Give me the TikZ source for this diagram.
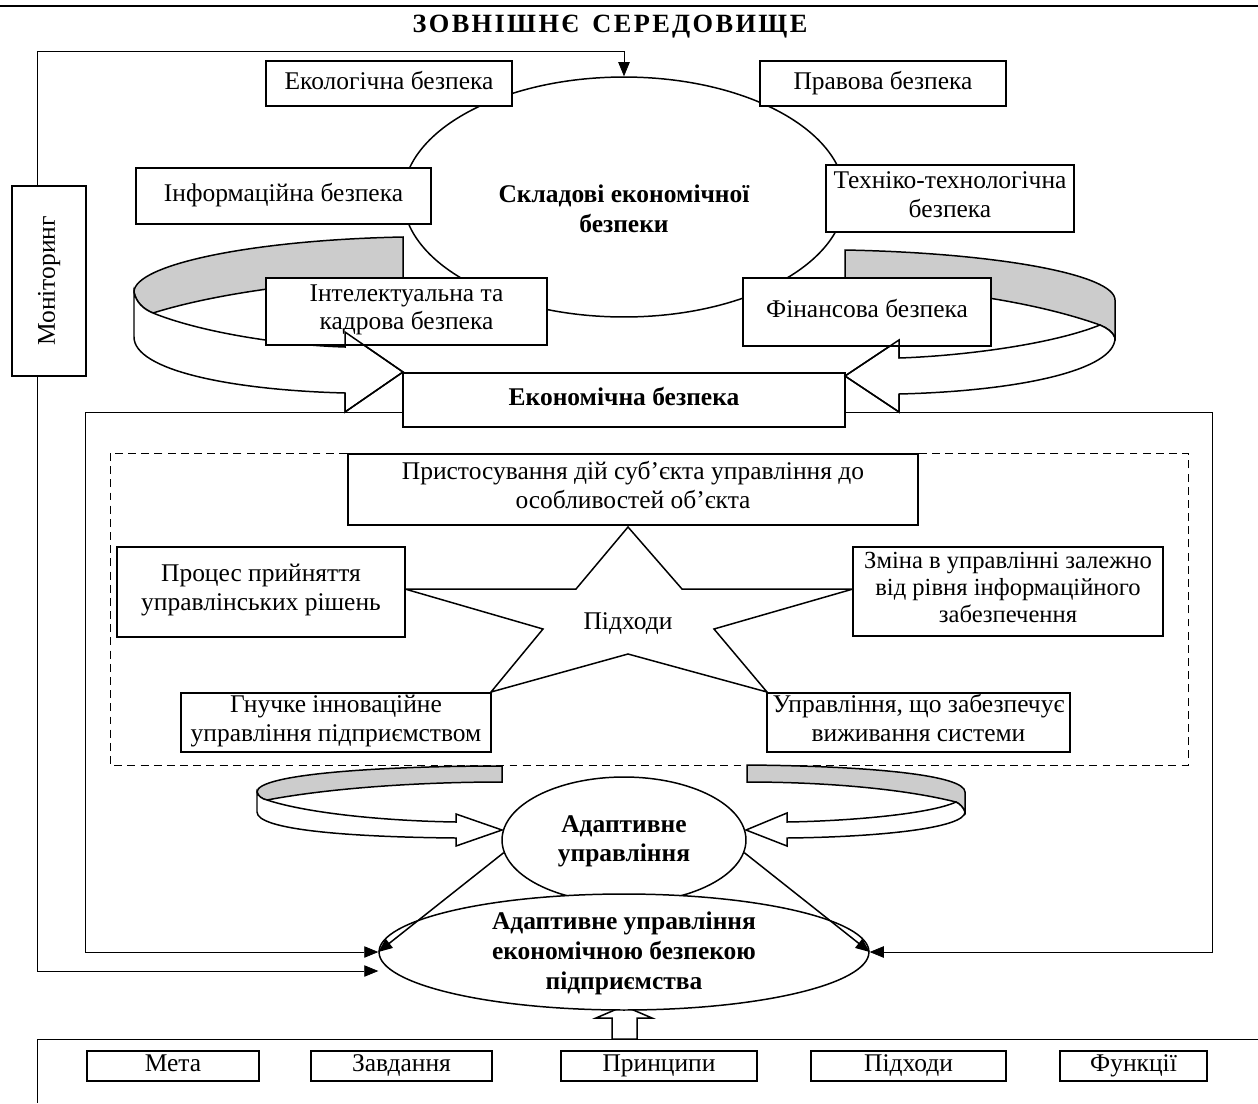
\documentclass[tikz,border=0pt]{standalone}
\usepackage{fontspec}
\setmainfont{Liberation Serif}
\usetikzlibrary{shapes.geometric,calc,arrows.meta}
\pgfdeclarelayer{background}
\pgfsetlayers{background,main}
\begin{document}
\begin{tikzpicture}[x=0.02cm,y=-0.02cm,line width=0.85pt,
  txt/.style={font=\fontsize{14.5}{16.5}\selectfont,align=center,
     execute at begin node=\strut,execute at end node=\strut},
  btxt/.style={font=\bfseries\fontsize{14.5}{17}\selectfont,align=center,
     execute at begin node=\strut,execute at end node=\strut},
  rb/.style n args={4}{minimum width={((#3)-(#1))*0.02cm},minimum height={((#4)-(#2))*0.02cm},
     at={({((#1)+(#3))/2},{((#2)+(#4))/2})}},
  box/.style={draw,fill=white,inner sep=0pt,txt},
  bbox/.style={draw,fill=white,inner sep=0pt,btxt},
  oval/.style={draw,fill=white,ellipse,inner sep=0pt},
  arr/.style={-{Triangle[length=8pt,width=6.5pt]}},
  backface/.style={draw,fill=black!20},
  frontface/.style={draw,fill=white}]
\useasboundingbox (0,0) rectangle (1258,1103);

% title
\node[btxt,font=\bfseries\fontsize{15}{17}\selectfont] (title) at (610,27) {\addfontfeature{LetterSpace=9}ЗОВНІШНЄ\hspace{0.5em}СЕРЕДОВИЩЕ};

% main ellipse
\node[oval,minimum width=8.84cm,minimum height=4.8cm] (skl) at (624,197) {};

% big ribbons
\path[backface] (403,237) .. controls (250,240) and (134,265) .. (134,292)
  .. controls (136,302) and (143,309) .. (153,313)
  .. controls (220,292) and (320,280) .. (403,278) -- cycle;
\path[frontface] (134,292) .. controls (136,302) and (143,309) .. (153,313)
  .. controls (200,332) and (280,345) .. (345,347) -- (345,332) -- (403,372)
  -- (345,412) -- (345,393) .. controls (230,390) and (134,370) .. (134,337) -- cycle;
\path[backface] (845,250) .. controls (1000,253) and (1115,275) .. (1115,300)
  -- (1115,338) .. controls (1113,332) and (1107,328) .. (1100,325)
  .. controls (1030,300) and (930,287) .. (845,285) -- cycle;
\path[frontface] (1100,325) .. controls (1050,345) and (960,356) .. (899,358)
  -- (899,340) -- (845,376) -- (899,412) -- (899,394)
  .. controls (1020,391) and (1115,370) .. (1115,338)
  .. controls (1113,332) and (1107,328) .. (1100,325) -- cycle;

% star
\path[draw,fill=white] (628,527) -- (682,589) -- (853,589) -- (714,629) -- (767,692)
  -- (628,654) -- (491,692) -- (543,629) -- (405,589) -- (576,589) -- cycle;
\node[txt] (star) at (628,624) {Підходи};

% boxes
\node[box,rb={266}{61}{512}{106}] (eco) {Екологічна безпека};
\node[box,rb={760}{61}{1006}{106}] (prav) {Правова безпека};
\node[box,rb={136}{168}{431}{224}] (info) {Інформаційна безпека};
\node[box,rb={826}{165}{1074}{232}] (tech) {Техніко-технологічна\\безпека};
\node[box,rb={266}{278}{547}{345}] (intel) {Інтелектуальна та\\кадрова безпека};
\node[box,rb={743}{278}{991}{346}] (fin) {Фінансова безпека};
\node[bbox,rb={403}{373}{845}{427}] (econ) {Економічна безпека};
\node[box,rb={12}{186}{86}{376}] (mon) {};
\node[txt,rotate=90] (mont) at (mon.center) {Моніторинг};
\node[btxt] (sklt) at (624,213) {Складові економічної\\безпеки};

\node[box,rb={348}{454}{918}{525}] (pryst) {Пристосування дій суб’єкта управління до\\особливостей об’єкта};
\node[box,rb={117}{547}{405}{637}] (proc) {Процес прийняття\\управлінських рішень};
\node[box,rb={853}{547}{1163}{636},font=\fontsize{14}{15.5}\selectfont] (zmina) {Зміна в управлінні залежно\\від рівня інформаційного\\забезпечення};
\node[box,rb={181}{693}{491}{752}] (gnuch) {Гнучке інноваційне\\управління підприємством};
\node[box,rb={767}{693}{1070}{752}] (uprav) {Управління, що забезпечує\\виживання системи};

% arrowheads of big ribbons over the boxes
\draw (345,347) -- (345,332) -- (403,372) -- (345,412) -- (345,393);
\draw (899,358) -- (899,340) -- (845,376) -- (899,412) -- (899,394);

% lower ribbons
\path[backface] (502,766) .. controls (380,766) and (257,774) .. (257,792)
  .. controls (258,796) and (262,799) .. (267,800)
  .. controls (330,788) and (420,782) .. (502,782) -- cycle;
\path[frontface] (257,792) .. controls (258,796) and (262,799) .. (267,800)
  .. controls (310,814) and (390,821) .. (456,822) -- (456,814) -- (502,830)
  -- (456,846) -- (456,838) .. controls (350,837) and (257,830) .. (257,812) -- cycle;
\path[backface] (747,765) .. controls (870,766) and (965,775) .. (965,792)
  -- (965,812) .. controls (963,807) and (960,804) .. (956,802)
  .. controls (900,788) and (820,782) .. (747,782) -- cycle;
\path[frontface] (956,802) .. controls (930,814) and (850,821) .. (787,822)
  -- (787,813) -- (746,830) -- (787,846) -- (787,838)
  .. controls (880,837) and (965,828) .. (965,812)
  .. controls (963,807) and (960,804) .. (956,802) -- cycle;

% ellipses at bottom
\node[oval,minimum width=4.88cm,minimum height=2.52cm] (ad) at (624,840) {};
\path[draw,fill=white] (612,1039) -- (612,1018) -- (596,1018) -- (624,1006)
  -- (652,1018) -- (637,1018) -- (637,1039) -- cycle;
\node[oval,minimum width=9.8cm,minimum height=2.32cm] (ab) at (624,952) {};
\node[btxt] (adt) at (624,843) {Адаптивне\\управління};
\node[btxt] (abt) at (624,955) {Адаптивне управління\\економічною безпекою\\підприємства};
\draw[arr] (ad.186) -- (ab.west);
\draw[arr] (ad.354) -- (ab.east);

% bottom boxes
\node[box,rb={87}{1051}{259}{1081}] (meta) {Мета};
\node[box,rb={311}{1051}{492}{1081}] (zavd) {Завдання};
\node[box,rb={561}{1051}{757}{1081}] (pryn) {Принципи};
\node[box,rb={811}{1051}{1006}{1081}] (pidh) {Підходи};
\node[box,rb={1060}{1051}{1207}{1081}] (funk) {Функції};

\begin{pgfonlayer}{background}
\draw[line width=1.6pt] (0,6) -- (1258,6);
\coordinate (mtl) at (37,51);
\coordinate (mtr) at (624,51);
\draw[arr] (mtl) -- (mtr) -- (skl.north);
\coordinate (mend) at ($(ab.west)+(0,19)$);
\draw[arr] (mtl) |- (mend);
\coordinate (fl) at (85,412);
\coordinate (fr) at (1212,412);
\draw[arr] (econ.west |- fl) -- (fl) |- (ab.west);
\draw[arr] (econ.east |- fr) -- (fr) |- (ab.east);
\draw[dash pattern=on 4.5pt off 3pt] (110,453) rectangle (1188,765);
\draw (1258,1039) -- (37,1039) -- (37,1103);
\end{pgfonlayer}
\end{tikzpicture}
\end{document}
